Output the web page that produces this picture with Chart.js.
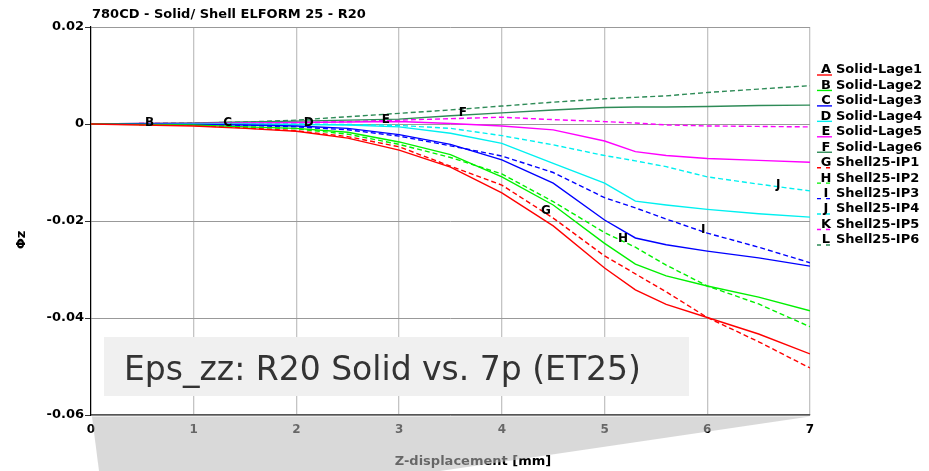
<!DOCTYPE html>
<html>
<head>
<meta charset="utf-8">
<script src="https://cdn.jsdelivr.net/npm/chart.js@4.4.1/dist/chart.umd.min.js"></script>
<style>
  html, body { margin: 0; padding: 0; background: #fff; }
  #wrap { width: 929px; height: 471px; position: relative; }
</style>
</head>
<body>
<div id="wrap"><canvas id="c"></canvas></div>
<script>
// Z-displacement [mm]
const xValues = [0, 0.5, 1, 1.5, 2, 2.5, 3, 3.5, 4, 4.5, 5, 5.3, 5.6, 6, 6.5, 7]

// Phi z
const solidLage1 = [0, -0.0002, -0.0004, -0.0009, -0.0015, -0.0029, -0.0054, -0.0089, -0.0142, -0.0210, -0.0297, -0.0342, -0.0372, -0.0399, -0.0433, -0.0474]
const solidLage2 = [0, -0.0001, -0.0002, -0.0006, -0.0009, -0.0017, -0.0037, -0.0063, -0.0109, -0.0167, -0.0246, -0.0289, -0.0313, -0.0334, -0.0357, -0.0385]
const solidLage3 = [0, 0, -0.0001, -0.0002, -0.0004, -0.0009, -0.0022, -0.0042, -0.0074, -0.0122, -0.0198, -0.0235, -0.0249, -0.0262, -0.0276, -0.0293]
const solidLage4 = [0, 0, 0, 0, -0.0001, -0.0002, -0.0006, -0.0019, -0.0040, -0.0081, -0.0122, -0.0159, -0.0167, -0.0176, -0.0185, -0.0192]
const solidLage5 = [0, 0.0001, 0.0001, 0.0002, 0.0003, 0.0004, 0.0005, 0.0001, -0.0004, -0.0012, -0.0035, -0.0057, -0.0065, -0.0071, -0.0075, -0.0079]
const solidLage6 = [0, 0.0001, 0.0002, 0.0004, 0.0006, 0.0008, 0.0010, 0.0017, 0.0023, 0.0029, 0.0034, 0.0035, 0.0035, 0.0036, 0.0038, 0.0039]
const shellIP1 = [0, -0.0001, -0.0003, -0.0008, -0.0014, -0.0026, -0.0047, -0.0087, -0.0126, -0.0194, -0.0272, -0.0309, -0.0346, -0.0399, -0.0449, -0.0503]
const shellIP2 = [0, -0.0001, -0.0002, -0.0006, -0.0010, -0.0021, -0.0042, -0.0069, -0.0103, -0.0160, -0.0224, -0.0254, -0.0291, -0.0334, -0.0371, -0.0418]
const shellIP3 = [0, 0, -0.0001, -0.0003, -0.0006, -0.0012, -0.0025, -0.0045, -0.0066, -0.0100, -0.0152, -0.0173, -0.0196, -0.0225, -0.0254, -0.0286]
const shellIP4 = [0, 0, 0, 0, 0, -0.0001, -0.0003, -0.0009, -0.0024, -0.0043, -0.0065, -0.0076, -0.0088, -0.0109, -0.0124, -0.0138]
const shellIP5 = [0, 0.0001, 0.0001, 0.0002, 0.0003, 0.0005, 0.0008, 0.0011, 0.0014, 0.0009, 0.0005, 0.0002, -0.0002, -0.0004, -0.0005, -0.0006]
const shellIP6 = [0, 0.0001, 0.0002, 0.0004, 0.0008, 0.0015, 0.0022, 0.0029, 0.0037, 0.0045, 0.0052, 0.0055, 0.0058, 0.0065, 0.0072, 0.0079]

const seriesNames = ['Solid-Lage1', 'Solid-Lage2', 'Solid-Lage3', 'Solid-Lage4', 'Solid-Lage5', 'Solid-Lage6',
    'Shell25-IP1', 'Shell25-IP2', 'Shell25-IP3', 'Shell25-IP4', 'Shell25-IP5', 'Shell25-IP6']
const seriesLetters = ['A', 'B', 'C', 'D', 'E', 'F', 'G', 'H', 'I', 'J', 'K', 'L']
// where the letter sits on each curve (null = outside the plot)
const letterX = [null, 0.57, 1.33, 2.12, 2.87, 3.62, 4.43, 5.18, 5.96, 6.69, null, null]

const xTicks = [0, 1, 2, 3, 4, 5, 6, 7]
const yTicks = [-0.06, -0.04, -0.02, 0, 0.02]
const yTickLabels = ['-0.06', '-0.04', '-0.02', '0', '0.02']

const allSeries = [solidLage1, solidLage2, solidLage3, solidLage4, solidLage5, solidLage6,
    shellIP1, shellIP2, shellIP3, shellIP4, shellIP5, shellIP6]
const colors = ['#ff0000', '#00f000', '#0000ff', '#00f0f0', '#ff00ff', '#2e8b57']

Chart.defaults.font.family = 'DejaVu Sans'

const decor = {
    id: 'decor',
    afterDraw(chart) {
        const ctx = chart.ctx
        const xs = chart.scales.x
        const ys = chart.scales.y
        ctx.save()

        // letters on the curves
        ctx.fillStyle = '#000'
        ctx.font = 'bold 12px "DejaVu Sans"'
        ctx.textAlign = 'center'
        ctx.textBaseline = 'alphabetic'
        chart.data.datasets.forEach((ds, i) => {
            const lx = letterX[i]
            if (lx === null) return
            let k = 0
            while (k < xValues.length - 2 && xValues[k + 1] < lx) k++
            const t = (lx - xValues[k]) / (xValues[k + 1] - xValues[k])
            const yv = allSeries[i][k] + t * (allSeries[i][k + 1] - allSeries[i][k])
            ctx.fillText(seriesLetters[i], xs.getPixelForValue(lx), ys.getPixelForValue(yv) + 1)
        })

        // title
        ctx.font = 'bold 13px "DejaVu Sans"'
        ctx.textAlign = 'left'
        ctx.textBaseline = 'middle'
        ctx.fillText('780CD - Solid/ Shell ELFORM 25 - R20', 92, 15)

        // axis titles
        ctx.textAlign = 'center'
        ctx.fillText('Z-displacement [mm]', 473, 462)
        ctx.save()
        ctx.translate(22, 240)
        ctx.rotate(-Math.PI / 2)
        ctx.fillText('\u03a6z', 0, 0)
        ctx.restore()

        // legend
        chart.data.datasets.forEach((ds, i) => {
            const y = 70 + i * 15.45
            ctx.strokeStyle = ds.borderColor
            ctx.lineWidth = 1.4
            ctx.setLineDash(ds.borderDash.length ? [4, 5] : [])
            ctx.beginPath()
            ctx.moveTo(817, y + 5)
            ctx.lineTo(832, y + 5)
            ctx.stroke()
            ctx.setLineDash([])
            ctx.fillStyle = '#000'
            ctx.textAlign = 'center'
            ctx.fillText(seriesLetters[i], 826, y)
            ctx.textAlign = 'left'
            ctx.fillText(seriesNames[i], 836, y)
        })

        // caption box
        ctx.fillStyle = '#f0f0f0'
        ctx.fillRect(104, 337, 585, 59)
        ctx.fillStyle = '#333'
        ctx.font = '33px "DejaVu Sans"'
        ctx.textAlign = 'left'
        ctx.textBaseline = 'alphabetic'
        ctx.fillText('Eps_zz: R20 Solid vs. 7p (ET25)', 124, 380)

        // grey wedge under the x axis
        ctx.fillStyle = 'rgba(185,185,185,0.55)'
        ctx.beginPath()
        ctx.moveTo(92, 416.5)
        ctx.lineTo(810, 416.5)
        ctx.lineTo(440, 471)
        ctx.lineTo(99, 471)
        ctx.closePath()
        ctx.fill()

        ctx.restore()
    }
}

const datasets = allSeries.map((values, i) => ({
    label: seriesNames[i],
    data: values.map((v, k) => ({ x: xValues[k], y: v })),
    borderColor: colors[i % 6],
    borderWidth: 1.4,
    borderDash: i >= 6 ? [5, 3] : [],
    pointRadius: 0,
    tension: 0,
    fill: false
}))

new Chart(document.getElementById('c'), {
    type: 'line',
    data: { datasets },
    plugins: [decor],
    options: {
        responsive: true,
        maintainAspectRatio: false,
        animation: false,
        layout: { padding: { left: 0, top: 27, right: 119, bottom: 0 } },
        plugins: {
            legend: { display: false },
            tooltip: { enabled: false }
        },
        scales: {
            x: {
                type: 'linear',
                min: 0,
                max: 7,
                afterBuildTicks: (scale) => { scale.ticks = xTicks.map(v => ({ value: v })) },
                afterFit: (scale) => { scale.height = 56 },
                grid: { color: '#c4c4c4', lineWidth: 1.3, drawTicks: false },
                border: { color: '#555', width: 1.2 },
                ticks: {
                    padding: 8,
                    color: '#000',
                    font: { weight: 'bold', size: 12 },
                    maxRotation: 0
                }
            },
            y: {
                min: -0.06,
                max: 0.02,
                afterBuildTicks: (scale) => { scale.ticks = yTicks.map(v => ({ value: v })) },
                afterFit: (scale) => { scale.width = 91 },
                grid: { color: '#999', tickLength: 6, tickColor: '#333' },
                border: { color: '#000', width: 1.2 },
                ticks: {
                    padding: 1,
                    color: '#000',
                    font: { weight: 'bold', size: 13 },
                    callback: (v, i) => yTickLabels[i]
                }
            }
        }
    }
})
</script>
</body>
</html>
